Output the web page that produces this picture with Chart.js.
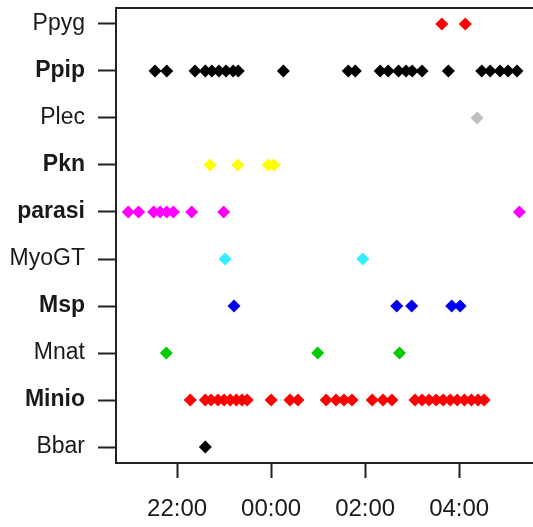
<!DOCTYPE html>
<html>
  <head>
    <title>Bat activity by species</title>
    <script src="https://cdn.jsdelivr.net/npm/chart.js"></script>
    <style>
      body { margin: 0; background: #fff; overflow: hidden; }
      #wrap { width: 533px; height: 527px; }
    </style>
  </head>
  <body>
    <div id="wrap"><canvas id="chart"></canvas></div>
    <script>
      // Species, bottom to top
      const species = ["Bbar", "Minio", "Mnat", "Msp", "MyoGT", "parasi", "Pkn", "Plec", "Ppip", "Ppyg"];
      const boldLabels = ["Ppip", "Pkn", "parasi", "Msp", "Minio"];
      const colors = ["#000000", "#ff0000", "#00cd00", "#0000ee", "#33eeff", "#ff00ff", "#ffff00", "#bebebe", "#000000", "#ff0000"];

      // Detection times in hours (24 = midnight, 26 = 02:00 ...)
      const bbar = [22.60];
      const minio = [22.28, 22.60, 22.72, 22.87, 23.00, 23.13, 23.26, 23.38, 23.49, 24.00,
                     24.40, 24.57, 25.17, 25.38, 25.55, 25.72, 26.15, 26.38, 26.57,
                     27.06, 27.21, 27.36, 27.51, 27.66, 27.81, 27.96, 28.11, 28.26, 28.40, 28.53];
      const mnat = [21.77, 24.99, 26.73];
      const msp = [23.21, 26.67, 26.99, 27.84, 28.02];
      const myoGT = [23.02, 25.95];
      const parasi = [20.96, 21.18, 21.50, 21.64, 21.78, 21.92, 22.31, 22.99, 29.28];
      const pkn = [22.70, 23.29, 23.94, 24.06];
      const plec = [28.38];
      const ppip = [21.53, 21.78, 22.38, 22.60, 22.74, 22.89, 23.04, 23.19, 23.30, 24.26,
                    25.64, 25.79, 26.32, 26.49, 26.71, 26.87, 27.00, 27.21, 27.77,
                    28.48, 28.66, 28.87, 29.04, 29.23];
      const ppyg = [27.63, 28.13];
      const times = [bbar, minio, mnat, msp, myoGT, parasi, pkn, plec, ppip, ppyg];

      const xTicks = [22, 24, 26, 28];
      const xTickLabels = ["22:00", "00:00", "02:00", "04:00"];

      const font = "'Liberation Sans', Arial, sans-serif";
      const ink = "#1a1a1a";

      const datasets = species.map((name, i) => ({
        label: name,
        data: times[i].map(t => ({ x: t, y: i })),
        backgroundColor: colors[i],
        borderWidth: 0,
        pointStyle: "rectRot",
        pointRadius: 6.5,
        pointHoverRadius: 6.5
      }));

      // no extra room for labels: the plot box is pinned to the canvas edges
      function noPad(s) {
        s.paddingTop = 0;
        s.paddingBottom = 0;
        s.paddingLeft = 0;
        s.paddingRight = 0;
      }

      new Chart(document.getElementById("chart"), {
        type: "scatter",
        data: { datasets: datasets },
        options: {
          responsive: true,
          maintainAspectRatio: false,
          animation: false,
          layout: { padding: 0, autoPadding: false },
          plugins: { legend: { display: false }, tooltip: { enabled: false } },
          scales: {
            x: {
              type: "linear",
              position: "bottom",
              min: 20.70,
              max: 29.57,
              afterBuildTicks: s => { s.ticks = xTicks.map(v => ({ value: v })); },
              afterFit: s => { s.height = 64; noPad(s); },
              ticks: {
                callback: (v) => xTickLabels[xTicks.indexOf(v)],
                color: ink,
                padding: 17,
                maxRotation: 0,
                font: { family: font, size: 24 }
              },
              grid: { drawOnChartArea: false, tickLength: 15, tickWidth: 2, tickColor: "#222" },
              border: { color: "#222", width: 2 }
            },
            x2: {
              type: "linear",
              position: "top",
              min: 20.70,
              max: 29.57,
              afterFit: s => { s.height = 8; noPad(s); },
              ticks: { display: false },
              grid: { display: false },
              border: { color: "#222", width: 2 }
            },
            y: {
              type: "linear",
              min: -0.34,
              max: 9.34,
              afterBuildTicks: s => { s.ticks = species.map((n, i) => ({ value: i })); },
              afterFit: s => { s.width = 116; noPad(s); },
              ticks: {
                callback: (v) => species[v],
                color: ink,
                padding: 13,
                font: (c) => ({
                  family: font,
                  size: 23,
                  weight: boldLabels.includes(species[c.tick ? c.tick.value : 0]) ? "bold" : "normal"
                })
              },
              grid: { drawOnChartArea: false, tickLength: 18, tickWidth: 2, tickColor: "#222" },
              border: { color: "#222", width: 2 }
            }
          }
        }
      });
    </script>
  </body>
</html>
